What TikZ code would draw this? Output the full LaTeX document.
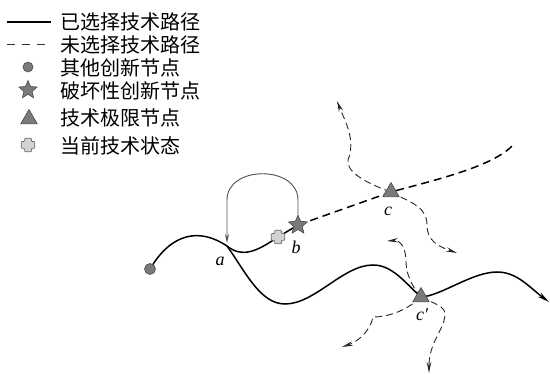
\documentclass[tikz,border=0pt]{standalone}
\usepackage{fontspec}
\setmainfont{Liberation Serif}
\newfontfamily\cjk{Noto Sans CJK SC}
\usetikzlibrary{shapes.geometric,arrows.meta,backgrounds}
\definecolor{mkfill}{HTML}{7A7A7A}
\definecolor{mkedge}{HTML}{4A4A4A}
\definecolor{crfill}{HTML}{D2D2D2}
\definecolor{loopcol}{HTML}{505050}
\begin{document}
\begin{tikzpicture}[x=1pt,y=-1pt,
  selpath/.style={line width=1.5pt,black},
  unsel/.style={line width=1.5pt,black,dash pattern=on 8pt off 5pt},
  unselleg/.style={line width=1pt,black!80,dash pattern=on 8pt off 7pt},
  branch/.style={line width=0.9pt,black!85,dash pattern=on 7pt off 4pt,-{Stealth[length=11pt,width=4.5pt]}},
  looparrow/.style={line width=0.9pt,loopcol,-{Stealth[length=9pt,width=4pt]},shorten >=3pt},
  dot/.style={circle,fill=mkfill,draw=mkedge,line width=0.6pt,inner sep=0pt,minimum size=11pt},
  starmk/.style={star,star points=5,star point ratio=2.2,fill=mkfill,draw=mkedge,line width=0.6pt,inner sep=0pt,minimum size=20pt},
  tri/.style={regular polygon,regular polygon sides=3,fill=mkfill,draw=mkedge,line width=0.6pt,inner sep=0pt,minimum size=19pt},
  crossbox/.style={rectangle,inner sep=0pt,minimum size=14pt},
  crossmk/.style={fill=crfill,draw=mkedge!80,line width=0.7pt,rounded corners=0.8pt},
  lbl/.style={font=\fontsize{18}{18}\selectfont\itshape,inner sep=0pt},
  legtxt/.style={anchor=west,font=\cjk\fontsize{20}{21}\selectfont,inner sep=0pt}
]
\useasboundingbox (0,0) rectangle (550,374);

% ---------- legend ----------
\coordinate (ls1) at (7,22);
\coordinate (ls2) at (51,22);
\coordinate (ld1) at (7,45);
\coordinate (ld2) at (51,45);
\draw[selpath] (ls1) -- (ls2);
\draw[unselleg] (ld1) -- (ld2);
\node[dot,minimum size=10pt] (lgO) at (28,67) {};
\node[starmk,minimum size=19pt] (lgS) at (28,90) {};
\node[tri] (lgT) at (29,119) {};
\node[crossbox] (lgC) at (28,145) {};
\filldraw[crossmk,shift={(lgC.center)}] (-3.4,-6.8) -- (3.4,-6.8) -- (3.4,-3.4) -- (6.8,-3.4) -- (6.8,3.4) -- (3.4,3.4) -- (3.4,6.8) -- (-3.4,6.8) -- (-3.4,3.4) -- (-6.8,3.4) -- (-6.8,-3.4) -- (-3.4,-3.4) -- cycle;
\node[legtxt] (t1) at (60,22) {已选择技术路径};
\node[legtxt] (t2) at (60,45) {未选择技术路径};
\node[legtxt] (t3) at (60,68) {其他创新节点};
\node[legtxt] (t4) at (60,91) {破坏性创新节点};
\node[legtxt] (t5) at (60,118) {技术极限节点};
\node[legtxt] (t6) at (60,146) {当前技术状态};

% ---------- diagram markers ----------
\node[dot] (O) at (150,269) {};
\node[crossbox] (cr) at (278,237) {};
\filldraw[crossmk,shift={(cr.center)}] (-3.4,-6.8) -- (3.4,-6.8) -- (3.4,-3.4) -- (6.8,-3.4) -- (6.8,3.4) -- (3.4,3.4) -- (3.4,6.8) -- (-3.4,6.8) -- (-3.4,3.4) -- (-6.8,3.4) -- (-6.8,-3.4) -- (-3.4,-3.4) -- cycle;
\node[starmk] (st) at (298,225) {};
\node[tri] (c) at (391,192) {};
\node[tri] (cp) at (421,297) {};

% ---------- coordinates ----------
\coordinate (a) at (227,246);
\coordinate (b1) at (285,304);
\coordinate (pk) at (373,265);
\coordinate (pk2) at (497,272);
\coordinate (e1) at (549,302);
\coordinate (d1) at (513,145);
\coordinate (l1) at (298,200);
\coordinate (l2) at (227,200);
\coordinate (p1) at (348,160);
\coordinate (tipA) at (337,101);
\coordinate (q1) at (427,225);
\coordinate (tipB) at (457,253);
\coordinate (r1) at (406,262);
\coordinate (tipC) at (387,241);
\coordinate (s1) at (373,317);
\coordinate (tipD) at (342,347);
\coordinate (u1) at (445,316);
\coordinate (tipE) at (429,373);

% ---------- connectors ----------
\begin{scope}[on background layer]
\draw[selpath] (O.center) .. controls (172,232) and (200,228) .. (a)
  .. controls (242,258) and (256,252) .. (cr.center) -- (st.center);
\draw[selpath,-{Stealth[length=12pt,width=5pt]}] (a) .. controls (245,271) and (260,304) .. (b1)
  .. controls (315,304) and (343,265) .. (pk)
  .. controls (393,265) and (406,284) .. (cp.center)
  .. controls (441,296) and (472,272) .. (pk2)
  .. controls (517,272) and (529,287) .. (e1);
\draw[unsel] (st.center) -- (c.center) .. controls (431,181) and (493,167) .. (d1);
\draw[branch] (c.center) .. controls (366,183) and (346,172) .. (p1)
  .. controls (356,140) and (345,121) .. (tipA);
\draw[branch] (c.center) .. controls (406,201) and (427,205) .. (q1)
  .. controls (427,240) and (437,246) .. (tipB);
\draw[branch] (cp.center) .. controls (411,286) and (406,272) .. (r1)
  .. controls (406,247) and (400,240) .. (tipC);
\draw[branch] (cp.center) .. controls (406,311) and (388,317) .. (s1)
  .. controls (370,332) and (357,342) .. (tipD);
\draw[branch] (cp.center) .. controls (432,303) and (447,306) .. (u1)
  .. controls (443,331) and (429,343) .. (tipE);
\end{scope}
\draw[looparrow] (st) -- (l1) .. controls (298,165) and (227,165) .. (l2) -- (a);

% ---------- labels ----------
\node[lbl] (la) at (220,261) {a};
\node[lbl] (lb) at (296,247) {b};
\node[lbl] (lc) at (388,211) {c};
\node[lbl] (lcp) at (422,315) {c′};
\end{tikzpicture}
\end{document}
